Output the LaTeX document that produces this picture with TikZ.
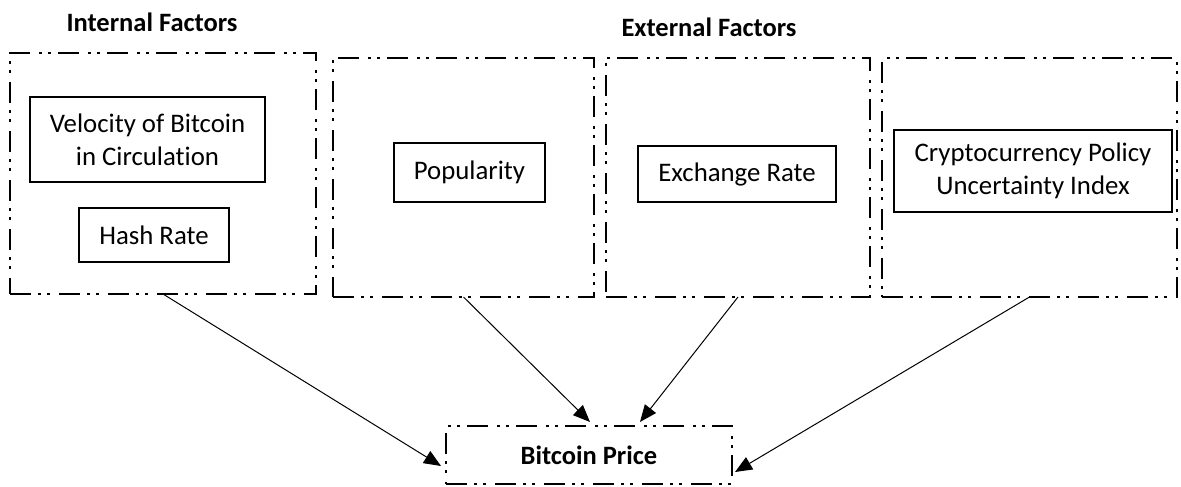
\documentclass[tikz,border=0pt]{standalone}
\usepackage{fontspec}
\setmainfont{Carlito}[Ligatures=NoCommon]
\usetikzlibrary{arrows.meta}
\tikzset{
  group/.style={draw, line width=2.8pt, dash pattern=on 21pt off 7pt on 3pt off 6pt on 3pt off 9pt, inner sep=0pt, outer sep=0pt},
  factor/.style={draw, line width=1.1pt, inner sep=0pt, outer sep=0pt, align=center, font=\fontsize{26.8}{33}\selectfont},
  head/.style={font=\fontsize{26.5}{33}\selectfont\bfseries, inner sep=0pt},
  conn/.style={line width=1pt, -{Triangle[length=17pt,width=14pt]}}
}
\begin{document}
\begin{tikzpicture}[x=1pt,y=-1pt]
\useasboundingbox (0,0) rectangle (1181,487);
% group boxes
\node[group, minimum width=306pt, minimum height=241pt] (b1) at (163,173.5) {};
\node[group, minimum width=261pt, minimum height=239pt] (b2) at (463.5,177.5) {};
\node[group, minimum width=264pt, minimum height=239pt] (b3) at (738,177.5) {};
\node[group, minimum width=295pt, minimum height=239pt] (b4) at (1029.5,177.5) {};
% headings
\node[head] (hin) at (152,22) {Internal Factors};
\node[head] (hex) at (709,27) {External Factors};
% factors
\node[factor, minimum width=235pt, minimum height=85pt] (vel) at (147.5,139.5) {Velocity of Bitcoin\\in Circulation};
\node[factor, minimum width=150pt, minimum height=54pt] (hash) at (154,235) {Hash Rate};
\node[factor, minimum width=151pt, minimum height=59pt] (pop) at (469.5,172.5) {Popularity};
\node[factor, minimum width=198pt, minimum height=56pt] (exch) at (737,174) {Exchange Rate};
\node[factor, minimum width=278pt, minimum height=82pt] (crypto) at (1033,171) {Cryptocurrency Policy\\Uncertainty Index};
% target
\node[group, minimum width=286pt, minimum height=58pt, font=\fontsize{26.5}{33}\selectfont\bfseries] (bp) at (589,455) {Bitcoin Price};
% connectors
\draw[conn] (b1.south) -- ([xshift=-5pt,yshift=-11pt]bp.west);
\draw[conn] (b2.south) -- ([xshift=1pt,yshift=4pt]bp.north);
\draw[conn] (b3.south) -- ([xshift=51pt,yshift=4pt]bp.north);
\draw[conn] (b4.south) -- ([xshift=3pt,yshift=-17pt]bp.east);
\end{tikzpicture}
\end{document}
